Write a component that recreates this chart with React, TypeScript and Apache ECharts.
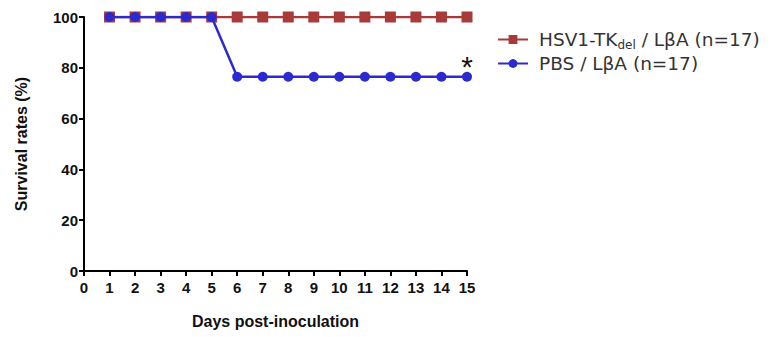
import React, { useEffect, useRef } from "react";
import * as echarts from "echarts";

const days = [1, 2, 3, 4, 5, 6, 7, 8, 9, 10, 11, 12, 13, 14, 15];
const tkSurvival = [100, 100, 100, 100, 100, 100, 100, 100, 100, 100, 100, 100, 100, 100, 100];
const pbsSurvival = [100, 100, 100, 100, 100, 76.47, 76.47, 76.47, 76.47, 76.47, 76.47, 76.47, 76.47, 76.47, 76.47];
const seriesNames = ["HSV1-TK_del / LβA (n=17)", "PBS / LβA (n=17)"];
const yTicks = [0, 20, 40, 60, 80, 100];

export default function App() {
  const ref = useRef<HTMLDivElement>(null);
  useEffect(() => {
    if (!ref.current) return;
    const chart = echarts.init(ref.current, null, { renderer: "svg" });
    const font = "'Liberation Sans', Arial, sans-serif";
    const lfont = "'DejaVu Sans', sans-serif";
    const axisLabel = { color: "#111", fontFamily: font, fontWeight: "bold" as const, fontSize: 15 };
    chart.setOption({
      animation: false,
      backgroundColor: "#fff",
      grid: { left: 84, right: 307, top: 17, bottom: 66 },
      legend: {
        orient: "vertical",
        left: 492,
        top: 25,
        itemWidth: 30,
        itemHeight: 11,
        itemGap: 3,
        data: seriesNames,
        textStyle: {
          fontFamily: lfont,
          fontSize: 18.5,
          color: "#333",
          rich: {
            sub: { fontSize: 12, fontFamily: lfont, color: "#333", verticalAlign: "bottom", padding: [11, 0, 0, 0] },
            n: { fontSize: 18.5, fontFamily: lfont, color: "#333", lineHeight: 23 },
            p: { width: 6 },
          },
        },
        formatter: (name: string) => {
          if (name.indexOf("_del") >= 0) {
            const parts = name.split("_del");
            return `{p|}{n|${parts[0]}}{sub|del}{n|${parts[1]}}`;
          }
          return `{p|}{n|${name}}`;
        },
      },
      xAxis: {
        type: "value",
        min: 0,
        max: 15,
        interval: 1,
        name: "Days post-inoculation",
        nameLocation: "middle",
        nameGap: 42,
        nameTextStyle: { fontFamily: font, fontWeight: "bold", fontSize: 16, color: "#111" },
        axisLine: { show: true, onZero: false, lineStyle: { color: "#000", width: 2 } },
        axisTick: { show: true, length: 5, lineStyle: { color: "#000", width: 2 } },
        axisLabel: { ...axisLabel, margin: 9 },
        splitLine: { show: false },
      },
      yAxis: {
        type: "value",
        min: 0,
        max: 100,
        interval: 20,
        name: "Survival rates (%)",
        nameLocation: "middle",
        nameGap: 55,
        nameTextStyle: { fontFamily: font, fontWeight: "bold", fontSize: 16, color: "#111" },
        axisLine: { show: true, lineStyle: { color: "#000", width: 2 } },
        axisTick: { show: true, length: 5, lineStyle: { color: "#000", width: 2 } },
        axisLabel: { ...axisLabel, margin: 6, formatter: (v: number) => (yTicks.indexOf(v) >= 0 ? String(v) : "") },
        splitLine: { show: false },
      },
      series: [
        {
          name: seriesNames[0],
          type: "line",
          data: days.map((d, i) => [d, tkSurvival[i]]),
          symbol: "rect",
          symbolSize: 11,
          color: "#a83a3a",
          lineStyle: { color: "#a83a3a", width: 2.5 },
          itemStyle: { color: "#a83a3a" },
          z: 2,
        },
        {
          name: seriesNames[1],
          type: "line",
          data: days.map((d, i) => [d, pbsSurvival[i]]),
          symbol: "circle",
          symbolSize: 10,
          color: "#2a2ad0",
          lineStyle: { color: "#2a2ad0", width: 2.5 },
          itemStyle: { color: "#2a2ad0" },
          z: 3,
          markPoint: {
            symbol: "circle",
            symbolSize: 0,
            data: [{ coord: [15, pbsSurvival[14]] }],
            label: { show: true, formatter: "*", color: "#111", fontSize: 30, fontFamily: font, offset: [0, -10] },
          },
        },
      ],
    });
    return () => chart.dispose();
  }, []);
  return <div ref={ref} style={{ width: 774, height: 337, position: "absolute", left: 0, top: 0 }} />;
}
